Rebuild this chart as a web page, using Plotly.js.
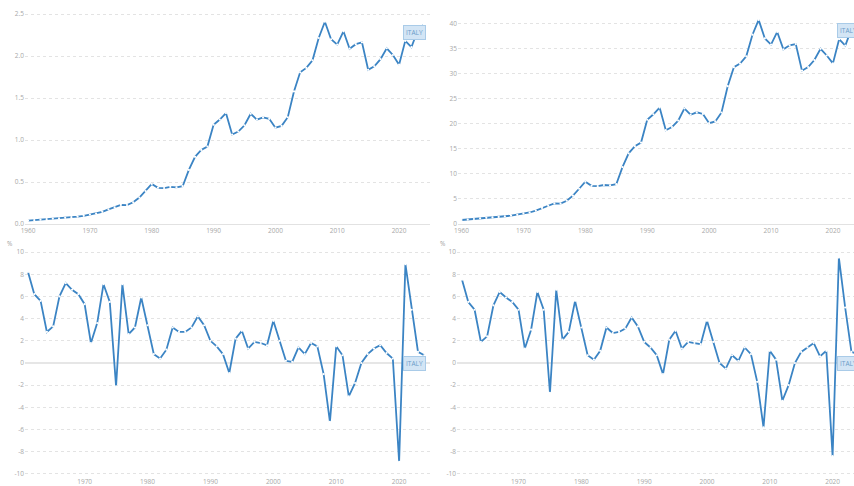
<!DOCTYPE html>
<html>
<head>
<meta charset="utf-8">
<script src="https://cdn.plot.ly/plotly-3.0.1.min.js"></script>
<style>
html,body{margin:0;padding:0;overflow:hidden;background:#fff;width:854px;height:486px;}
#chart{width:880px;height:486px;}
</style>
</head>
<body>
<div id="chart"></div>
<script>
// Years
const yearsLevel = [];
for (let y = 1960; y <= 2024; y++) yearsLevel.push(y);
const yearsGrowth = [];
for (let y = 1961; y <= 2024; y++) yearsGrowth.push(y);

// GDP (current US$, trillions), 1960-2024
const gdpTrillions = [0.040,0.045,0.051,0.058,0.063,0.068,0.073,0.081,0.088,0.097,
  0.113,0.124,0.145,0.175,0.199,0.227,0.225,0.258,0.315,0.393,
  0.477,0.431,0.428,0.441,0.436,0.450,0.644,0.800,0.882,0.922,
  1.182,1.244,1.321,1.065,1.101,1.175,1.312,1.242,1.270,1.252,
  1.147,1.168,1.271,1.578,1.806,1.858,1.949,2.214,2.408,2.199,
  2.136,2.294,2.087,2.141,2.163,1.836,1.877,1.962,2.092,2.012,
  1.897,2.180,2.105,2.301,2.373];

// GDP per capita (current US$, thousands), 1960-2024
const gdpPerCapita = [0.80,0.89,1.00,1.13,1.23,1.31,1.41,1.55,1.67,1.84,
  2.11,2.30,2.67,3.21,3.64,4.12,4.06,4.65,5.66,7.04,
  8.46,7.63,7.56,7.79,7.71,7.95,11.37,14.12,15.56,16.27,
  20.83,21.93,23.26,18.74,19.38,20.66,23.08,21.83,22.32,21.99,
  20.14,20.50,22.28,27.54,31.34,32.04,33.50,37.82,40.78,37.08,
  35.85,38.37,34.90,35.71,35.95,30.64,31.35,32.76,35.00,33.67,
  32.09,36.93,35.66,39.00,40.20];

// GDP growth (annual %), 1961-2024
const gdpGrowth = [8.2,6.2,5.6,2.8,3.3,6.0,7.2,6.6,6.2,5.3,
  1.8,3.6,7.1,5.5,-2.1,7.1,2.6,3.2,5.9,3.4,
  0.8,0.4,1.2,3.2,2.8,2.8,3.2,4.2,3.4,2.0,
  1.5,0.8,-0.9,2.2,2.9,1.3,1.9,1.8,1.6,3.8,
  2.0,0.2,0.1,1.4,0.8,1.8,1.5,-1.0,-5.3,1.5,
  0.7,-3.0,-1.8,0.0,0.8,1.3,1.6,0.9,0.4,-8.9,
  8.9,4.8,1.0,0.7];

// GDP per capita growth (annual %), 1961-2024
const gdpPcGrowth = [7.5,5.5,4.8,1.9,2.4,5.2,6.4,5.9,5.5,4.8,
  1.3,3.0,6.4,4.8,-2.7,6.6,2.1,2.8,5.6,3.2,
  0.7,0.3,1.1,3.2,2.7,2.8,3.1,4.1,3.3,1.9,
  1.4,0.7,-1.0,2.1,2.9,1.3,1.9,1.8,1.7,3.8,
  1.9,0.0,-0.5,0.7,0.2,1.4,0.8,-1.7,-5.8,1.1,
  0.3,-3.4,-2.0,0.0,1.0,1.4,1.8,0.6,1.1,-8.4,
  9.5,5.0,1.0,0.8];

const countryLabel = "ITALY";
const unitLabel = "%";
const tickYearsTop = [1960,1970,1980,1990,2000,2010,2020];
const tickYearsBottom = [1970,1980,1990,2000,2010,2020];
const ticksTL = [0,0.5,1.0,1.5,2.0,2.5];
const ticksTR = [0,5,10,15,20,25,30,35,40];
const ticksGrowth = [-10,-8,-6,-4,-2,0,2,4,6,8,10];

const W = 880, H = 486;
const px = v => v / W;
const py = v => 1 - v / H;

const lineColor = '#3b84c4';
function trace(x, y, xa, ya) {
  return {
    x: x, y: y, xaxis: xa, yaxis: ya, type: 'scatter', mode: 'lines+markers',
    line: {color: lineColor, width: 1.8},
    marker: {color: '#ffffff', size: 2.2},
    hoverinfo: 'skip', showlegend: false
  };
}

const data = [
  trace(yearsLevel, gdpTrillions, 'x', 'y'),
  trace(yearsLevel, gdpPerCapita, 'x2', 'y2'),
  trace(yearsGrowth, gdpGrowth, 'x3', 'y3'),
  trace(yearsGrowth, gdpPcGrowth, 'x4', 'y4')
];

const tickFont = {family: 'Open Sans, sans-serif', size: 6.5, color: '#a8a8a8'};
function xAx(domain, range, ticks, anchor, showLine) {
  return {
    domain: domain, range: range, anchor: anchor,
    tickmode: 'array', tickvals: ticks, ticktext: ticks.map(String),
    showgrid: false, zeroline: false,
    showline: showLine, linecolor: '#e2e2e2', linewidth: 1,
    ticks: '', tickfont: tickFont, fixedrange: true
  };
}
function yAx(domain, range, ticks, fmt, anchor, zl) {
  return {
    domain: domain, range: range, anchor: anchor,
    tickmode: 'array', tickvals: ticks,
    ticktext: ticks.map(v => fmt(v)),
    showgrid: true, gridcolor: '#e3e3e3', gridwidth: 1, griddash: 'dot',
    zeroline: zl, zerolinecolor: '#e6e6e6', zerolinewidth: 1.5,
    showline: false, ticks: '', tickfont: tickFont, fixedrange: true
  };
}

const topDom = [py(224), py(9.8)];
const botDom = [py(476.2), py(249.8)];

const layout = {
  width: W, height: H,
  margin: {l: 0, r: 0, t: 0, b: 0, pad: 0},
  paper_bgcolor: '#ffffff', plot_bgcolor: '#ffffff',
  font: {family: 'Open Sans, sans-serif'},
  xaxis: xAx([px(25), px(430)], [1959.5, 2025.0], tickYearsTop, 'y', true),
  yaxis: yAx(topDom, [0, 2.55], ticksTL, v => v.toFixed(1), 'x', false),
  xaxis2: xAx([px(458), px(864)], [1959.43, 2025.02], tickYearsTop, 'y2', true),
  yaxis2: yAx(topDom, [0, 42.8], ticksTR, v => String(v), 'x2', false),
  xaxis3: xAx([px(25), px(430)], [1960.52, 2024.91], tickYearsBottom, 'y3', false),
  yaxis3: yAx(botDom, [-10.2, 10.2], ticksGrowth, v => String(v), 'x3', true),
  xaxis4: xAx([px(457), px(864)], [1960.2, 2025.0], tickYearsBottom, 'y4', false),
  yaxis4: yAx(botDom, [-10.2, 10.2], ticksGrowth, v => String(v), 'x4', true),
  annotations: []
};

function tag(cx, cy) {
  return {
    xref: 'paper', yref: 'paper', x: px(cx), y: py(cy),
    xanchor: 'center', yanchor: 'middle', showarrow: false,
    text: countryLabel,
    font: {family: 'Open Sans, sans-serif', size: 6.5, color: '#6b9cc9'},
    bgcolor: '#d3e5f5', bordercolor: '#a9cbe8', borderwidth: 1, borderpad: 2
  };
}
layout.annotations.push(tag(414.5, 32));
layout.annotations.push(tag(848.5, 31));
layout.annotations.push(tag(414.5, 363.5));
layout.annotations.push(tag(848.5, 363.5));

function unit(cx, cy) {
  return {
    xref: 'paper', yref: 'paper', x: px(cx), y: py(cy),
    xanchor: 'center', yanchor: 'middle', showarrow: false,
    text: unitLabel, font: {family: 'Open Sans, sans-serif', size: 6.5, color: '#a0a0a0'}
  };
}
layout.annotations.push(unit(10, 243));
layout.annotations.push(unit(443, 243));

Plotly.newPlot('chart', data, layout, {displayModeBar: false, staticPlot: true});
</script>
</body>
</html>
